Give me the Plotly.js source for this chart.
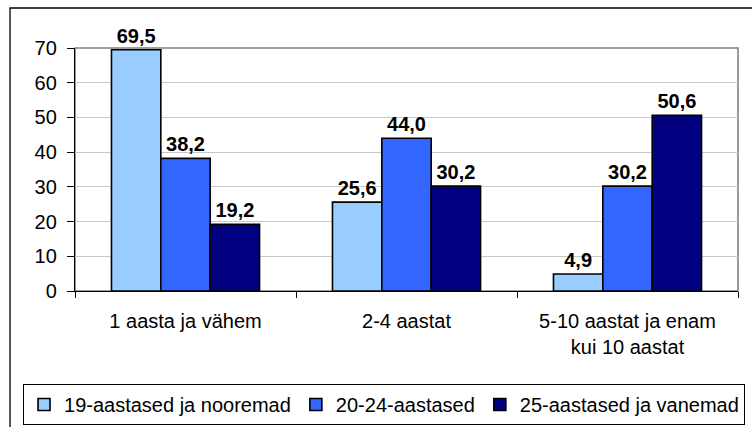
<!DOCTYPE html>
<html>
<head>
<meta charset="utf-8">
<script src="https://cdn.plot.ly/plotly-3.0.1.min.js"></script>
<style>
html,body{margin:0;padding:0;background:#fff;overflow:hidden;}
#chart{width:752px;height:427px;}
</style>
</head>
<body>
<div id="chart"></div>
<script>
var categories = ["1 aasta ja vähem", "2-4 aastat", "5-10 aastat ja enam<br>kui 10 aastat"];
var seriesNames = ["19-aastased ja nooremad", "20-24-aastased", "25-aastased ja vanemad"];
var young = [69.5, 25.6, 4.9];
var mid = [38.2, 44.0, 30.2];
var old = [19.2, 30.2, 50.6];
var yTicks = [0, 10, 20, 30, 40, 50, 60, 70];

var colors = ["#99CCFF", "#3366FF", "#000080"];
var values = [young, mid, old];
var FONT = "Liberation Sans, Arial, sans-serif";
var FS = 20;

var data = values.map(function (v, i) {
  return {
    type: "bar",
    name: seriesNames[i],
    x: categories,
    y: v,
    marker: { color: colors[i], line: { color: "#000000", width: 1.6 } },
    texttemplate: "%{y:.1f}",
    textposition: "outside",
    textfont: { family: FONT, size: FS, color: "#000000", weight: "bold" },
    constraintext: "none",
    cliponaxis: false,
    hoverinfo: "skip"
  };
});

var layout = {
  width: 752,
  height: 427,
  separators: ", ",
  paper_bgcolor: "#ffffff",
  plot_bgcolor: "#ffffff",
  margin: { l: 75, r: 14, t: 48, b: 136, autoexpand: false },
  barmode: "group",
  bargap: 0.33,
  bargroupgap: 0,
  font: { family: FONT, size: FS, color: "#000000" },
  showlegend: true,
  legend: {
    orientation: "h",
    x: -0.0784,
    xanchor: "left",
    y: -0.383,
    yanchor: "top",
    bordercolor: "#000000",
    borderwidth: 1,
    font: { family: FONT, size: FS, color: "#000000" },
    itemwidth: 30,
    traceorder: "normal"
  },
  xaxis: {
    type: "category",
    tickson: "boundaries",
    ticks: "outside",
    ticklen: 6,
    tickcolor: "#000000",
    tickwidth: 1,
    showline: true,
    linecolor: "#000000",
    linewidth: 1.2,
    showgrid: false,
    zeroline: false,
    automargin: false,
    ticklabelstandoff: 12,
    tickfont: { family: FONT, size: FS, color: "#000000" }
  },
  yaxis: {
    range: [0, 70],
    tickvals: yTicks,
    ticktext: yTicks.map(String),
    ticks: "outside",
    ticklen: 7,
    tickcolor: "#000000",
    tickwidth: 1,
    showline: true,
    linecolor: "#000000",
    linewidth: 1.2,
    showgrid: true,
    gridcolor: "#c8c8c8",
    gridwidth: 1,
    zeroline: false,
    automargin: false,
    ticklabelstandoff: 6,
    tickfont: { family: FONT, size: FS, color: "#000000" }
  },
  shapes: [
    { type: "rect", xref: "paper", yref: "paper", x0: 0, x1: 1, y0: 0, y1: 1,
      line: { color: "#808080", width: 1.6 }, fillcolor: "rgba(0,0,0,0)", layer: "below" },
    { type: "rect", xref: "paper", yref: "paper", x0: -0.098, x1: 1.3, y0: -2, y1: 1.1646,
      line: { color: "#000000", width: 1.3 }, fillcolor: "rgba(0,0,0,0)", layer: "below" }
  ]
};

Plotly.newPlot("chart", data, layout, { displayModeBar: false, staticPlot: true });
</script>
</body>
</html>
